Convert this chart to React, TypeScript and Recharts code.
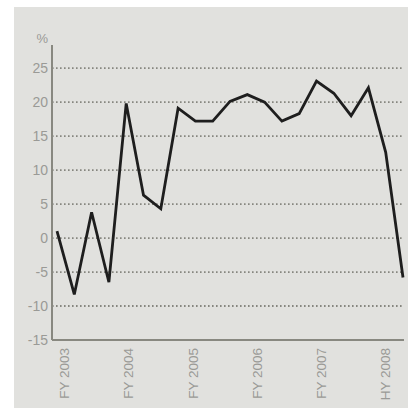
import { LineChart, Line, XAxis, YAxis, CartesianGrid } from "recharts";

// half-yearly growth, %
const GROWTH = [
  1.0, -8.3, 3.8, -6.5, 19.8, 6.3, 4.3, 19.1, 17.2, 17.2, 20.1, 21.1, 20.0,
  17.2, 18.3, 23.1, 21.3, 18.0, 22.1, 12.6, -5.8,
];

const PERIOD_LABELS = ["FY 2003", "FY 2004", "FY 2005", "FY 2006", "FY 2007", "HY 2008"];
const PERIOD_TICKS = [0.4, 4.1, 7.85, 11.55, 15.25, 18.95];
const Y_TICKS = [-15, -10, -5, 0, 5, 10, 15, 20, 25];
const GRID_VALUES = [-10, -5, 0, 5, 10, 15, 20, 25];

const data = GROWTH.map((v, i) => ({ i, v }));

const FONT = "'Liberation Sans', Arial, sans-serif";
const TEXT = "#9a9a96";
const AXIS = "#888880";

const PeriodTick = (props: any) => {
  const { x, y, payload } = props;
  const idx = PERIOD_TICKS.indexOf(payload.value);
  return (
    <text
      x={x}
      y={y}
      transform={`rotate(-90, ${x}, ${y})`}
      textAnchor="end"
      dy="0.35em"
      fill={TEXT}
      fontSize={13.5}
      fontFamily={FONT}
    >
      {PERIOD_LABELS[idx]}
    </text>
  );
};

export default function App() {
  return (
    <div style={{ position: "fixed", left: 0, top: 0, width: 408, height: 408, background: "#fff" }}>
      <div style={{ position: "absolute", left: 14, top: 7, width: 394, height: 401, background: "#e1e1de" }}>
        <LineChart width={394} height={401} data={data} margin={{ top: 38, right: 4, left: 0, bottom: 0 }}>
          <CartesianGrid
            vertical={false}
            horizontalValues={GRID_VALUES}
            stroke="#86867f"
            strokeWidth={1.8}
            strokeDasharray="1.6 2.4"
          />
          <XAxis
            dataKey="i"
            type="number"
            domain={[0, 20]}
            ticks={PERIOD_TICKS}
            interval={0}
            padding={{ left: 5, right: 1 }}
            height={68}
            tickLine={false}
            tickSize={0}
            tickMargin={8}
            tick={<PeriodTick />}
            axisLine={{ stroke: AXIS, strokeWidth: 2 }}
          />
          <YAxis
            width={38}
            type="number"
            domain={[-15, 28.4]}
            ticks={Y_TICKS}
            interval={0}
            tickLine={false}
            tickSize={0}
            tickMargin={4}
            tick={{ fill: TEXT, fontSize: 14, fontFamily: FONT }}
            axisLine={{ stroke: AXIS, strokeWidth: 2 }}
          />
          <text x={34} y={36} textAnchor="end" fill={TEXT} fontSize={13} fontFamily={FONT}>
            %
          </text>
          <Line
            dataKey="v"
            type="linear"
            stroke="#1e1e1e"
            strokeWidth={2.8}
            strokeLinejoin="miter"
            dot={false}
            activeDot={false}
            isAnimationActive={false}
          />
        </LineChart>
      </div>
    </div>
  );
}
